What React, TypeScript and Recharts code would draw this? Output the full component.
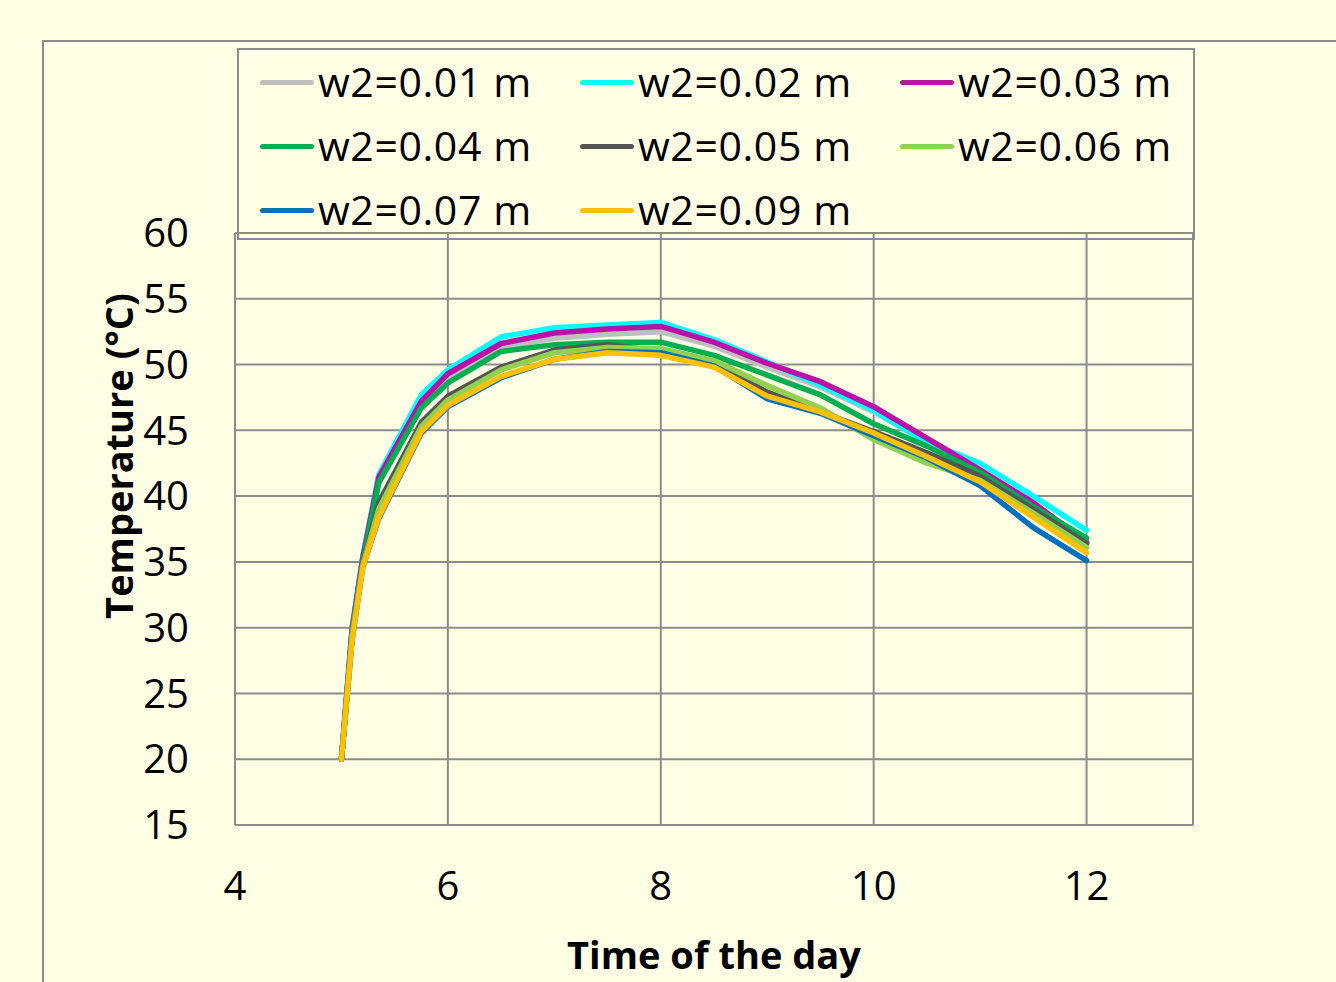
import React from 'react';
import {
  LineChart,
  Line,
  XAxis,
  YAxis,
  CartesianGrid,
  ReferenceLine,
} from 'recharts';

const hours = [5, 5.1, 5.2, 5.35, 5.75, 6, 6.5, 7, 7.5, 8, 8.5, 9, 9.5, 10, 10.5, 11, 11.5, 12];

const w001 = [20, 29.8, 35.2, 41.2, 47.0, 49.0, 51.3, 52.0, 52.3, 52.5, 51.4, 49.8, 48.3, 46.4, 44.1, 41.8, 39.3, 36.4];
const w002 = [20, 30.0, 35.4, 41.6, 47.7, 49.6, 52.1, 52.8, 53.0, 53.2, 51.9, 50.2, 48.4, 46.5, 44.1, 42.5, 40.0, 37.4];
const w003 = [20, 29.9, 35.3, 41.4, 47.2, 49.3, 51.6, 52.4, 52.7, 52.9, 51.7, 50.1, 48.7, 46.8, 44.4, 42.0, 39.5, 36.5];
const w004 = [20, 29.7, 35.0, 41.0, 46.7, 48.6, 51.0, 51.5, 51.7, 51.7, 50.7, 49.2, 47.7, 45.5, 43.8, 41.8, 39.2, 36.8];
const w005 = [20, 29.4, 34.8, 39.5, 45.6, 47.6, 49.8, 51.1, 51.5, 51.0, 50.1, 47.9, 46.4, 44.9, 43.3, 41.5, 39.0, 36.4];
const w006 = [20, 29.3, 34.7, 39.0, 45.3, 47.3, 49.6, 50.9, 51.3, 51.2, 50.3, 48.4, 46.7, 44.3, 42.5, 41.2, 38.7, 36.1];
const w007 = [20, 29.1, 34.6, 38.3, 44.8, 46.8, 49.0, 50.4, 51.0, 50.9, 49.9, 47.4, 46.3, 44.6, 42.9, 40.8, 37.6, 35.1];
const w009 = [20, 29.1, 34.6, 38.4, 44.9, 46.9, 49.1, 50.4, 50.9, 50.7, 49.8, 47.6, 46.4, 44.8, 43.0, 41.1, 38.4, 35.7];

const xTicks = [4, 6, 8, 10, 12];
const yTicks = [15, 20, 25, 30, 35, 40, 45, 50, 55, 60];

const series = [
  { key: 'w001', name: 'w2=0.01 m', color: '#BFBFBF', values: w001 },
  { key: 'w002', name: 'w2=0.02 m', color: '#00FFFF', values: w002 },
  { key: 'w003', name: 'w2=0.03 m', color: '#BC10A8', values: w003 },
  { key: 'w004', name: 'w2=0.04 m', color: '#00B050', values: w004 },
  { key: 'w005', name: 'w2=0.05 m', color: '#555555', values: w005 },
  { key: 'w006', name: 'w2=0.06 m', color: '#92D050', values: w006 },
  { key: 'w007', name: 'w2=0.07 m', color: '#0070C0', values: w007 },
  { key: 'w009', name: 'w2=0.09 m', color: '#FFC000', values: w009 },
];

const data = hours.map((h, i) => {
  const row: any = { hour: h };
  series.forEach((s) => {
    row[s.key] = s.values[i];
  });
  return row;
});

const BG = '#FFFFE6';
const GRID = '#8C8C8C';
const FONT = '"Open Sans", sans-serif';

// legend sits in its own box over the top of the plot, like the Excel original
const LegendBox = () => (
  <div
    style={{
      position: 'absolute',
      left: 237,
      top: 48,
      width: 958,
      height: 192,
      boxSizing: 'border-box',
      border: `2px solid ${GRID}`,
      display: 'grid',
      gridTemplateColumns: '320px 320px 316px',
      gridAutoRows: '64px',
      marginTop: 0,
      fontFamily: FONT,
      fontSize: 41,
      letterSpacing: 0.6,
      color: '#000',
    }}
  >
    {series.map((s) => (
      <div
        key={s.key}
        style={{ display: 'flex', alignItems: 'center', paddingLeft: 21, marginTop: -3 }}
      >
        <span
          style={{
            display: 'inline-block',
            width: 54,
            height: 5,
            borderRadius: 3,
            background: s.color,
            marginRight: 4,
            marginTop: 3,
          }}
        />
        <span style={{ whiteSpace: 'nowrap' }}>{s.name}</span>
      </div>
    ))}
  </div>
);

export default function App() {
  return (
    <div
      style={{
        position: 'absolute',
        left: 0,
        top: 0,
        width: 1336,
        height: 982,
        background: BG,
        overflow: 'hidden',
      }}
    >
      <div
        style={{
          position: 'absolute',
          left: 42,
          top: 40,
          width: 1300,
          height: 960,
          borderLeft: `2px solid ${GRID}`,
          borderTop: `2px solid ${GRID}`,
        }}
      />
      <LineChart
        width={1336}
        height={982}
        data={data}
        margin={{ top: 233, right: 143, bottom: 97, left: 135 }}
        style={{ position: 'absolute', left: 0, top: 0 }}
      >
        <CartesianGrid stroke={GRID} strokeWidth={2} />
        <XAxis
          dataKey="hour"
          type="number"
          domain={[4, 13]}
          ticks={xTicks}
          interval={0}
          height={60}
          tickLine={false}
          tickSize={0}
          tickMargin={47}
          axisLine={{ stroke: GRID, strokeWidth: 2 }}
          tick={{ fill: '#000', fontSize: 40, fontFamily: FONT }}
          label={{
            value: 'Time of the day',
            position: 'bottom',
            offset: 57,
            fill: '#000',
            fontSize: 38,
            fontWeight: 'bold',
            fontFamily: FONT,
          }}
        />
        <YAxis
          type="number"
          domain={[15, 60]}
          ticks={yTicks}
          interval={0}
          width={100}
          tickLine={false}
          tickSize={0}
          tickMargin={46}
          axisLine={{ stroke: GRID, strokeWidth: 2 }}
          tick={{ fill: '#000', fontSize: 40, fontFamily: FONT }}
          label={{
            value: 'Temperature (°C)',
            angle: -90,
            position: 'insideLeft',
            offset: -15,
            dy: -73,
            fill: '#000',
            fontSize: 38,
            fontWeight: 'bold',
            fontFamily: FONT,
            textAnchor: 'middle',
          }}
        />
        <ReferenceLine x={13} stroke={GRID} strokeWidth={2} />
        {series.map((s) => (
          <Line
            key={s.key}
            dataKey={s.key}
            name={s.name}
            type="linear"
            stroke={s.color}
            strokeWidth={5.5}
            strokeLinejoin="round"
            strokeLinecap="round"
            dot={false}
            isAnimationActive={false}
          />
        ))}
      </LineChart>
      <LegendBox />
    </div>
  );
}
